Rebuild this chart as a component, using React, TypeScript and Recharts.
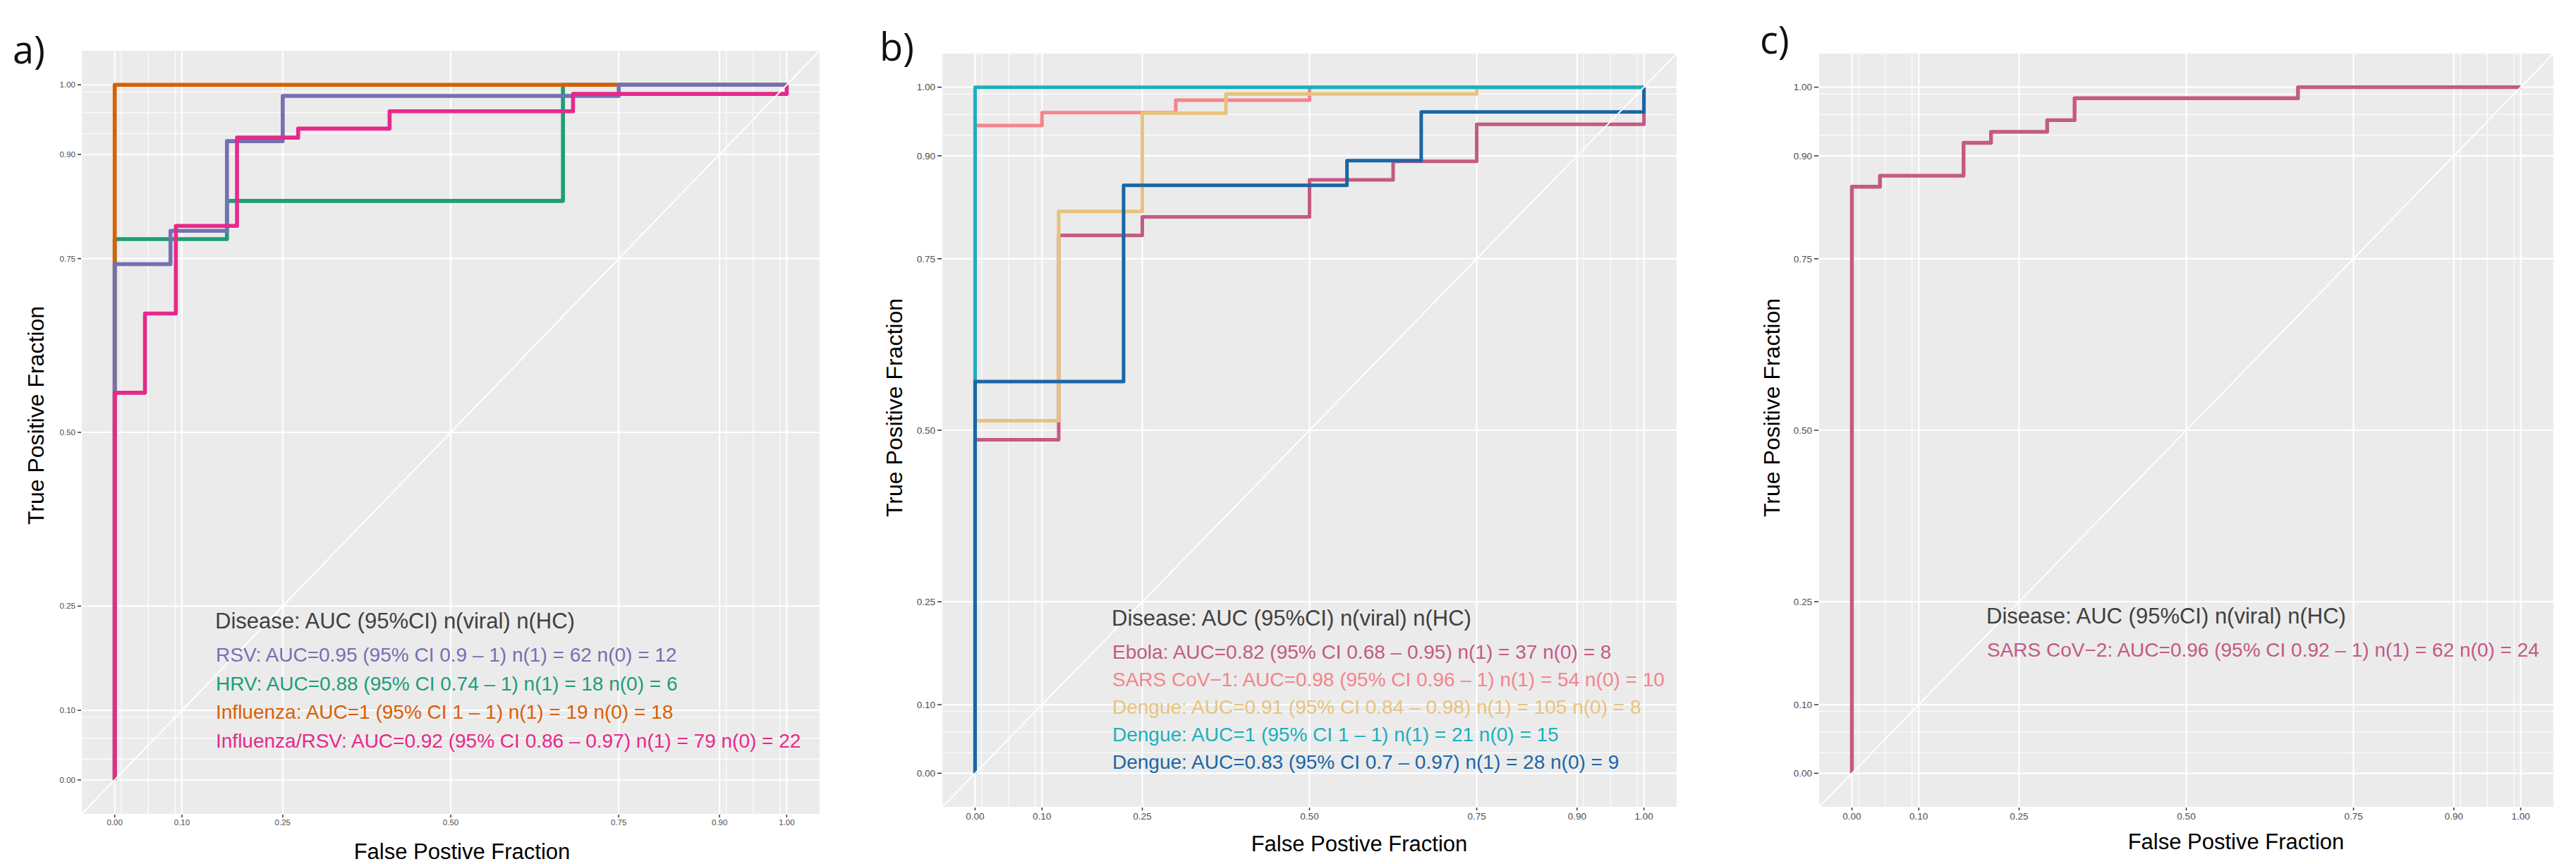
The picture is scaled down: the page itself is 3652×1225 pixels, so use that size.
import React from 'react';
import { LineChart, Line, XAxis, YAxis, CartesianGrid, ReferenceLine } from 'recharts';

const majorTicks = [0, 0.1, 0.25, 0.5, 0.75, 0.9, 1];
const minorTicks = [0.01, 0.02, 0.03, 0.04, 0.05, 0.06, 0.07, 0.08, 0.09, 0.91, 0.92, 0.93, 0.94, 0.95, 0.96, 0.97, 0.98, 0.99];

// panel a
const rsvRoc = [
  { fpr: 0, tpr: 0 }, { fpr: 0, tpr: 0.742 }, { fpr: 0.083, tpr: 0.742 }, { fpr: 0.083, tpr: 0.79 },
  { fpr: 0.167, tpr: 0.79 }, { fpr: 0.167, tpr: 0.919 }, { fpr: 0.25, tpr: 0.919 }, { fpr: 0.25, tpr: 0.984 },
  { fpr: 0.75, tpr: 0.984 }, { fpr: 0.75, tpr: 1 }, { fpr: 1, tpr: 1 },
];
const hrvRoc = [
  { fpr: 0, tpr: 0 }, { fpr: 0, tpr: 0.778 }, { fpr: 0.167, tpr: 0.778 }, { fpr: 0.167, tpr: 0.833 },
  { fpr: 0.667, tpr: 0.833 }, { fpr: 0.667, tpr: 1 }, { fpr: 1, tpr: 1 },
];
const fluRoc = [{ fpr: 0, tpr: 0 }, { fpr: 0, tpr: 1 }, { fpr: 1, tpr: 1 }];
const fluRsvRoc = [
  { fpr: 0, tpr: 0 }, { fpr: 0, tpr: 0.557 }, { fpr: 0.045, tpr: 0.557 }, { fpr: 0.045, tpr: 0.671 },
  { fpr: 0.091, tpr: 0.671 }, { fpr: 0.091, tpr: 0.797 }, { fpr: 0.182, tpr: 0.797 }, { fpr: 0.182, tpr: 0.924 },
  { fpr: 0.273, tpr: 0.924 }, { fpr: 0.273, tpr: 0.937 }, { fpr: 0.409, tpr: 0.937 }, { fpr: 0.409, tpr: 0.962 },
  { fpr: 0.682, tpr: 0.962 }, { fpr: 0.682, tpr: 0.987 }, { fpr: 1, tpr: 0.987 }, { fpr: 1, tpr: 1 },
];

// panel b
const ebolaRoc = [
  { fpr: 0, tpr: 0 }, { fpr: 0, tpr: 0.486 }, { fpr: 0.125, tpr: 0.486 }, { fpr: 0.125, tpr: 0.784 },
  { fpr: 0.25, tpr: 0.784 }, { fpr: 0.25, tpr: 0.811 }, { fpr: 0.5, tpr: 0.811 }, { fpr: 0.5, tpr: 0.865 },
  { fpr: 0.625, tpr: 0.865 }, { fpr: 0.625, tpr: 0.892 }, { fpr: 0.75, tpr: 0.892 }, { fpr: 0.75, tpr: 0.946 },
  { fpr: 1, tpr: 0.946 }, { fpr: 1, tpr: 1 },
];
const sars1Roc = [
  { fpr: 0, tpr: 0 }, { fpr: 0, tpr: 0.944 }, { fpr: 0.1, tpr: 0.944 }, { fpr: 0.1, tpr: 0.963 },
  { fpr: 0.3, tpr: 0.963 }, { fpr: 0.3, tpr: 0.981 }, { fpr: 0.5, tpr: 0.981 }, { fpr: 0.5, tpr: 1 }, { fpr: 1, tpr: 1 },
];
const dengue1Roc = [
  { fpr: 0, tpr: 0 }, { fpr: 0, tpr: 0.514 }, { fpr: 0.125, tpr: 0.514 }, { fpr: 0.125, tpr: 0.819 },
  { fpr: 0.25, tpr: 0.819 }, { fpr: 0.25, tpr: 0.962 }, { fpr: 0.375, tpr: 0.962 }, { fpr: 0.375, tpr: 0.99 },
  { fpr: 0.75, tpr: 0.99 }, { fpr: 0.75, tpr: 1 }, { fpr: 1, tpr: 1 },
];
const dengue2Roc = [{ fpr: 0, tpr: 0 }, { fpr: 0, tpr: 1 }, { fpr: 1, tpr: 1 }];
const dengue3Roc = [
  { fpr: 0, tpr: 0 }, { fpr: 0, tpr: 0.571 }, { fpr: 0.222, tpr: 0.571 }, { fpr: 0.222, tpr: 0.857 },
  { fpr: 0.556, tpr: 0.857 }, { fpr: 0.556, tpr: 0.893 }, { fpr: 0.667, tpr: 0.893 }, { fpr: 0.667, tpr: 0.964 },
  { fpr: 1, tpr: 0.964 }, { fpr: 1, tpr: 1 },
];

// panel c
const sars2Roc = [
  { fpr: 0, tpr: 0 }, { fpr: 0, tpr: 0.855 }, { fpr: 0.042, tpr: 0.855 }, { fpr: 0.042, tpr: 0.871 },
  { fpr: 0.167, tpr: 0.871 }, { fpr: 0.167, tpr: 0.919 }, { fpr: 0.208, tpr: 0.919 }, { fpr: 0.208, tpr: 0.935 },
  { fpr: 0.292, tpr: 0.935 }, { fpr: 0.292, tpr: 0.952 }, { fpr: 0.333, tpr: 0.952 }, { fpr: 0.333, tpr: 0.984 },
  { fpr: 0.667, tpr: 0.984 }, { fpr: 0.667, tpr: 1 }, { fpr: 1, tpr: 1 },
];

const legendTitle = 'Disease: AUC (95%CI) n(viral) n(HC)';
const labelsA = [
  'RSV: AUC=0.95 (95% CI 0.9 – 1) n(1) = 62 n(0) = 12',
  'HRV: AUC=0.88 (95% CI 0.74 – 1) n(1) = 18 n(0) = 6',
  'Influenza: AUC=1 (95% CI 1 – 1) n(1) = 19 n(0) = 18',
  'Influenza/RSV: AUC=0.92 (95% CI 0.86 – 0.97) n(1) = 79 n(0) = 22',
];
const colorsA = ['#7570B3', '#1B9E77', '#D95F02', '#E7298A'];
const labelsB = [
  'Ebola: AUC=0.82 (95% CI 0.68 – 0.95) n(1) = 37 n(0) = 8',
  'SARS CoV−1: AUC=0.98 (95% CI 0.96 – 1) n(1) = 54 n(0) = 10',
  'Dengue: AUC=0.91 (95% CI 0.84 – 0.98) n(1) = 105 n(0) = 8',
  'Dengue: AUC=1 (95% CI 1 – 1) n(1) = 21 n(0) = 15',
  'Dengue: AUC=0.83 (95% CI 0.7 – 0.97) n(1) = 28 n(0) = 9',
];
const colorsB = ['#C45A82', '#F4858B', '#E8C37D', '#1BB0BD', '#1A66A6'];
const labelsC = ['SARS CoV−2: AUC=0.96 (95% CI 0.92 – 1) n(1) = 62 n(0) = 24'];
const colorsC = ['#C45A82'];

const FONT = '"Liberation Sans", Arial, Helvetica, sans-serif';
const AXIS_W = 60;
const AXIS_H = 40;

type Pt = { fpr: number; tpr: number };
type Curve = { data: Pt[]; color: string };

interface PanelProps {
  left: number; top: number; w: number; h: number;
  curves: Curve[]; tickFont: number; tickLen: number; lineW: number;
}

const RocPanel = ({ left, top, w, h, curves, tickFont, tickLen, lineW }: PanelProps) => {
  const tick = { fontSize: tickFont, fill: '#4D4D4D', fontFamily: FONT };
  const fmt = (v: number) => v.toFixed(2);
  return (
    <div style={{ position: 'absolute', left: left - AXIS_W, top }}>
      <LineChart width={w + AXIS_W} height={h + AXIS_H} margin={{ top: 0, right: 0, bottom: 0, left: 0 }}>
        <CartesianGrid fill="#EBEBEB" stroke="#FFFFFF" strokeWidth={1.1} horizontalValues={minorTicks} verticalValues={minorTicks} />
        <CartesianGrid stroke="#FFFFFF" strokeWidth={2.2} />
        <XAxis type="number" dataKey="fpr" domain={[-0.05, 1.05]} allowDataOverflow ticks={majorTicks}
          tickFormatter={fmt} tick={tick} height={AXIS_H} axisLine={false}
          tickLine={{ stroke: '#333333', strokeWidth: 1.5 }} tickSize={4} tickMargin={3} />
        <YAxis type="number" dataKey="tpr" domain={[-0.05, 1.05]} allowDataOverflow ticks={majorTicks}
          tickFormatter={fmt} tick={tick} width={AXIS_W} axisLine={false}
          tickLine={{ stroke: '#333333', strokeWidth: 1.5 }} tickSize={tickLen} tickMargin={3} />
        {curves.map((c, i) => (
          <Line key={i} data={c.data} dataKey="tpr" type="linear" stroke={c.color} strokeWidth={lineW}
            strokeLinejoin="round" dot={false} activeDot={false} isAnimationActive={false} />
        ))}
        <ReferenceLine segment={[{ x: -0.05, y: -0.05 }, { x: 1.05, y: 1.05 }]} stroke="#FFFFFF" strokeWidth={2} ifOverflow="visible" />
      </LineChart>
    </div>
  );
};

const Legend = ({ x, y, labels, colors, step }: { x: number; y: number; labels: string[]; colors: string[]; step: number }) => (
  <g fontFamily={FONT}>
    <text x={x} y={y} fontSize={31} fill="#404040">{legendTitle}</text>
    {labels.map((l, i) => (
      <text key={i} x={x + 1} y={y + 47 + i * step} fontSize={28} fill={colors[i]}>{l}</text>
    ))}
  </g>
);

const YTitle = ({ x, y }: { x: number; y: number }) => (
  <text x={x} y={y} transform={`rotate(-90 ${x} ${y})`} textAnchor="middle" dominantBaseline="central"
    fontFamily={FONT} fontSize={32} fill="#000">True Positive Fraction</text>
);
const XTitle = ({ x, y }: { x: number; y: number }) => (
  <text x={x} y={y} textAnchor="middle" fontFamily={FONT} fontSize={31} fill="#000">False Postive Fraction</text>
);

export default function App() {
  const curvesA: Curve[] = [
    { data: hrvRoc, color: colorsA[1] },
    { data: fluRoc, color: colorsA[2] },
    { data: rsvRoc, color: colorsA[0] },
    { data: fluRsvRoc, color: colorsA[3] },
  ];
  const curvesB: Curve[] = [
    { data: ebolaRoc, color: colorsB[0] },
    { data: sars1Roc, color: colorsB[1] },
    { data: dengue1Roc, color: colorsB[2] },
    { data: dengue2Roc, color: colorsB[3] },
    { data: dengue3Roc, color: colorsB[4] },
  ];
  const curvesC: Curve[] = [{ data: sars2Roc, color: colorsC[0] }];

  return (
    <div style={{ position: 'absolute', left: 0, top: 0, width: 3652, height: 1225, background: '#FFFFFF', overflow: 'hidden' }}>
      <RocPanel left={115} top={71} w={1048} h={1084} curves={curvesA} tickFont={11.5} tickLen={5} lineW={5.6} />
      <RocPanel left={1335} top={75} w={1043} h={1070} curves={curvesB} tickFont={13.5} tickLen={6} lineW={5} />
      <RocPanel left={2578} top={75} w={1043} h={1070} curves={curvesC} tickFont={13.5} tickLen={6} lineW={5.4} />
      <svg width={3652} height={1225} style={{ position: 'absolute', left: 0, top: 0, pointerEvents: 'none' }}>
        <g fontFamily='"Open Sans", sans-serif' fontSize={54} fill="#111">
          <text x={18} y={90}>a)</text>
          <text x={1247} y={86}>b)</text>
          <text x={2495} y={76}>c)</text>
        </g>
        <YTitle x={51} y={589} />
        <YTitle x={1268} y={578} />
        <YTitle x={2512} y={578} />
        <XTitle x={655} y={1218} />
        <XTitle x={1927} y={1207} />
        <XTitle x={3170} y={1204} />
        <Legend x={305} y={891} labels={labelsA} colors={colorsA} step={40.5} />
        <Legend x={1576} y={887} labels={labelsB} colors={colorsB} step={39} />
        <Legend x={2816} y={884} labels={labelsC} colors={colorsC} step={39} />
      </svg>
    </div>
  );
}
